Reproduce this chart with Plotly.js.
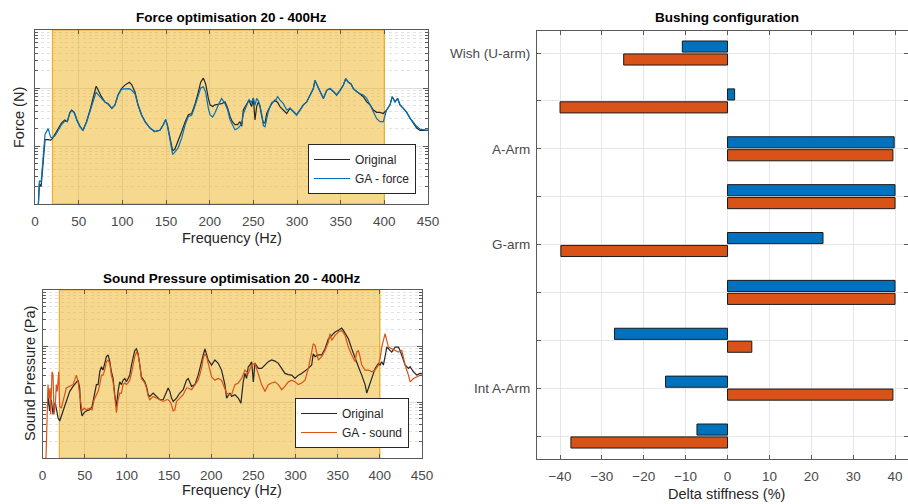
<!DOCTYPE html>
<html>
<head>
<meta charset="utf-8">
<script src="https://cdn.plot.ly/plotly-3.0.1.min.js"></script>
<style>
html, body { margin: 0; padding: 0; background: #ffffff; overflow: hidden; }
#chart { width: 908px; height: 504px; }
</style>
</head>
<body>
<div id="chart"></div>
<script>
// ---------------- DATA ----------------
// Force optimisation (levels stored as log10 of force)
var forceFreq = [3, 5, 7, 9.5, 11.5, 15, 18, 20, 23, 27, 30.5, 34, 37, 40, 42, 45, 48, 51.5, 55, 59, 63, 67, 70, 72.5, 76, 80, 84, 88, 91.6, 95, 99, 103, 108, 110.7, 114.5, 118, 122, 126, 131.7, 137, 143, 147, 149.6, 151.5, 154.6, 157.6, 160, 164, 168, 172, 175.6, 179.4, 183, 187, 189.7, 192.8, 195.4, 198.5, 200.4, 203.4, 206, 210, 213.7, 217.6, 220.6, 223.3, 225.9, 229, 232, 234.7, 236.7, 238.5, 242.4, 245, 248, 250, 251.9, 253.8, 255.7, 257.6, 259.6, 261.5, 263.4, 265.3, 267.2, 271, 274.8, 277.9, 280.5, 284.4, 288.2, 292, 295.8, 299.6, 303.4, 307.3, 311.1, 314.9, 318.7, 320.6, 323.7, 327.5, 330.2, 334, 337.8, 341.6, 345.4, 349.3, 353.1, 355.7, 358.8, 361.8, 364.5, 368.3, 372.1, 376, 379.8, 383.6, 387.4, 391.2, 395, 398.8, 402.6, 406.5, 409.1, 412.2, 415.3, 417.9, 421.8, 425.6, 429.4, 433.2, 437, 440.8, 446.6, 450];
var forceOriginalLog10 = [-0.3, 0.35, 0.30, 0.80, 1.11, 1.11, 1.10, 1.13, 1.20, 1.31, 1.40, 1.45, 1.42, 1.58, 1.62, 1.58, 1.45, 1.34, 1.27, 1.42, 1.62, 1.88, 2.03, 1.96, 1.85, 1.76, 1.72, 1.65, 1.71, 1.88, 1.99, 2.05, 2.10, 2.06, 1.93, 1.71, 1.54, 1.42, 1.31, 1.25, 1.27, 1.37, 1.45, 1.37, 1.14, 0.92, 0.94, 1.08, 1.25, 1.42, 1.54, 1.56, 1.71, 1.93, 2.10, 2.17, 2.07, 1.82, 1.71, 1.68, 1.71, 1.72, 1.73, 1.76, 1.65, 1.51, 1.42, 1.37, 1.37, 1.42, 1.34, 1.62, 1.71, 1.79, 1.68, 1.82, 1.45, 1.68, 1.76, 1.68, 1.51, 1.40, 1.40, 1.56, 1.62, 1.73, 1.79, 1.75, 1.68, 1.62, 1.56, 1.65, 1.59, 1.54, 1.62, 1.71, 1.76, 1.88, 1.99, 2.13, 2.02, 1.90, 1.82, 1.96, 1.99, 1.94, 1.88, 1.96, 2.05, 2.16, 2.10, 2.07, 1.99, 1.94, 1.90, 1.85, 1.76, 1.71, 1.62, 1.58, 1.58, 1.56, 1.62, 1.71, 1.85, 1.76, 1.82, 1.71, 1.65, 1.58, 1.48, 1.40, 1.31, 1.27, 1.27, 1.27];
var forceGALog10 = [-0.3, 0.40, 0.38, 0.80, 1.20, 1.30, 1.15, 1.14, 1.18, 1.28, 1.37, 1.43, 1.42, 1.57, 1.61, 1.57, 1.44, 1.33, 1.27, 1.41, 1.61, 1.82, 1.93, 1.88, 1.82, 1.76, 1.73, 1.65, 1.71, 1.87, 1.98, 1.99, 1.99, 1.96, 1.90, 1.70, 1.53, 1.42, 1.31, 1.25, 1.27, 1.37, 1.46, 1.36, 1.08, 0.86, 0.89, 0.97, 1.14, 1.37, 1.51, 1.53, 1.68, 1.87, 2.00, 2.02, 1.93, 1.65, 1.54, 1.50, 1.57, 1.71, 1.82, 1.73, 1.62, 1.45, 1.36, 1.28, 1.30, 1.35, 1.38, 1.55, 1.70, 1.80, 1.75, 1.83, 1.70, 1.82, 1.78, 1.70, 1.55, 1.35, 1.33, 1.50, 1.60, 1.75, 1.77, 1.85, 1.79, 1.73, 1.62, 1.65, 1.59, 1.53, 1.62, 1.71, 1.76, 1.88, 1.99, 2.13, 2.02, 1.90, 1.82, 1.96, 1.99, 1.94, 1.88, 1.96, 2.05, 2.16, 2.10, 2.07, 1.99, 1.94, 1.90, 1.88, 1.82, 1.71, 1.59, 1.47, 1.42, 1.42, 1.62, 1.71, 1.85, 1.76, 1.82, 1.71, 1.65, 1.58, 1.48, 1.40, 1.34, 1.29, 1.27, 1.27];

// Sound pressure optimisation (levels stored as log10 of pressure)
var soundFreqOriginal = [5.7, 7.2, 8.3, 10.5, 12.5, 13.7, 15.2, 16.4, 18.4, 20.4, 22.4, 24.3, 28.3, 32.3, 36.2, 40.2, 42.2, 44.1, 45.3, 46.9, 49.3, 52, 56, 58.8, 61.2, 63.9, 65.9, 67.9, 69.9, 71.8, 73.8, 75.8, 77.8, 79.8, 81.7, 83.7, 85.7, 87.7, 89.6, 91.6, 93.6, 95.6, 97.6, 99.5, 101.5, 103.5, 105.5, 107.5, 109.4, 111.4, 113.4, 115.4, 117.3, 121.3, 123.3, 125.3, 127.3, 131.2, 135.2, 139.1, 143.1, 147, 149, 151, 153, 155, 156.9, 158.9, 162.9, 166.8, 170.8, 172.8, 176.7, 180.7, 184.6, 188.6, 190.6, 192.6, 194.5, 196.5, 200.5, 204.4, 208.4, 212.3, 216.3, 218.3, 222.2, 224.2, 228.2, 232.1, 235.3, 238, 240.1, 242, 244, 246, 248, 250, 251.9, 254, 255.9, 259.8, 263.8, 267.8, 271.7, 275.7, 279.6, 283.6, 287.5, 291.5, 295.5, 299.4, 303.4, 307.3, 311.3, 315.2, 319.2, 321, 323.2, 327.1, 331.1, 335, 339, 342.9, 346.9, 350.9, 354.8, 356.8, 358.8, 362.7, 366.7, 370.6, 374.6, 378.5, 382.5, 384.5, 386.5, 390.4, 394.4, 398.3, 400.3, 402.3, 404.2, 406.2, 408.2, 410.2, 414.1, 418.1, 422.1, 424, 426, 430, 433.9, 435.9, 439.9, 443.8, 447.7, 449.7];
var soundOriginalLog10 = [0.89, 1.07, 0.84, 1.04, 0.78, 0.95, 0.98, 0.86, 0.72, 0.66, 0.75, 0.84, 0.98, 1.19, 1.28, 1.36, 1.39, 1.25, 0.89, 0.75, 0.81, 0.84, 0.86, 0.92, 1.10, 1.31, 1.31, 1.54, 1.63, 1.57, 1.69, 1.81, 1.84, 1.72, 1.54, 1.42, 1.13, 0.92, 1.19, 1.36, 1.31, 1.39, 1.42, 1.36, 1.42, 1.48, 1.66, 1.81, 1.92, 1.95, 1.86, 1.66, 1.45, 1.36, 1.28, 1.13, 1.10, 1.16, 1.10, 1.04, 1.04, 1.19, 1.25, 1.19, 1.07, 1.01, 1.04, 1.07, 1.16, 1.22, 1.39, 1.42, 1.28, 1.31, 1.48, 1.69, 1.84, 1.95, 1.86, 1.75, 1.66, 1.75, 1.69, 1.57, 1.31, 1.07, 1.16, 1.10, 1.13, 1.07, 0.98, 1.36, 1.51, 1.42, 1.63, 1.66, 1.72, 1.36, 1.69, 1.63, 1.60, 1.60, 1.66, 1.72, 1.75, 1.73, 1.69, 1.60, 1.51, 1.49, 1.48, 1.42, 1.48, 1.51, 1.55, 1.60, 1.66, 1.86, 1.81, 1.84, 1.84, 1.95, 2.13, 2.19, 2.25, 2.28, 2.32, 2.28, 2.22, 2.13, 1.95, 1.78, 1.63, 1.48, 1.31, 1.16, 1.25, 1.42, 1.60, 1.69, 1.66, 1.72, 1.66, 1.81, 1.98, 1.95, 1.89, 1.98, 1.98, 1.92, 1.84, 1.66, 1.60, 1.63, 1.54, 1.48, 1.51, 1.51];
var soundFreqGA = [3.8, 4.5, 5.7, 6.5, 7.7, 8.9, 9.7, 11.3, 12.5, 13.7, 15.2, 16.4, 17.6, 19.2, 20.4, 22.4, 24.3, 28.3, 32.3, 36.2, 40.2, 42.2, 44.1, 45.3, 46.9, 49.3, 52, 56, 58.8, 61.2, 63.9, 65.9, 67.9, 69.9, 71.8, 73.8, 75.8, 77.8, 79.8, 81.7, 83.7, 85.7, 87.7, 89.6, 91.6, 93.6, 95.6, 97.6, 99.5, 101.5, 103.5, 105.5, 107.5, 109.4, 111.4, 113.4, 115.4, 117.3, 121.3, 123.3, 125.3, 127.3, 131.2, 135.2, 139.1, 143.1, 147, 149, 151, 153, 155, 156.9, 158.9, 162.9, 166.8, 170.8, 172.8, 176.7, 180.7, 184.6, 188.6, 190.6, 192.6, 194.5, 196.5, 200.5, 204.4, 208.4, 212.3, 216.3, 218.3, 222.2, 224.2, 228.2, 232.1, 236.1, 240.1, 244, 248, 251.9, 255.9, 259.8, 263.8, 267.8, 271.7, 275.7, 279.6, 283.6, 287.5, 291.5, 295.5, 299.4, 303.4, 307.3, 311.3, 315.2, 319.2, 321, 323.2, 327.1, 331.1, 335, 339, 341, 342.9, 346.9, 350.9, 354.8, 358.8, 362.7, 366.7, 370.6, 372.6, 374.6, 376.5, 378.5, 382.5, 386.5, 390.4, 394.4, 398.3, 400.3, 402.3, 404.2, 406.2, 408.2, 410.2, 414.1, 418.1, 422.1, 426, 430, 433.9, 435.9, 439.9, 443.8, 447.7, 449.7];
var soundGALog10 = [-0.2, 0.31, 0.95, 1.31, 1.07, 1.25, 0.78, 1.54, 1.48, 0.78, 0.95, 1.31, 1.19, 1.54, 0.92, 0.89, 1.01, 1.25, 1.28, 1.31, 1.48, 1.36, 1.13, 0.95, 0.84, 0.89, 0.86, 0.89, 0.86, 1.04, 1.13, 1.19, 1.31, 1.48, 1.48, 1.57, 1.72, 1.75, 1.69, 1.48, 1.36, 1.04, 0.81, 1.04, 1.16, 1.16, 1.31, 1.34, 1.31, 1.34, 1.39, 1.51, 1.66, 1.81, 1.89, 1.84, 1.66, 1.42, 1.34, 1.25, 1.10, 1.04, 1.10, 1.07, 1.04, 1.01, 1.04, 1.04, 1.01, 0.95, 0.84, 0.86, 1.01, 1.07, 1.13, 1.25, 1.25, 1.22, 1.31, 1.39, 1.60, 1.78, 1.86, 1.81, 1.69, 1.45, 1.39, 1.42, 1.39, 1.25, 1.16, 1.13, 1.13, 1.31, 1.34, 1.42, 1.57, 1.51, 1.66, 1.69, 1.48, 1.31, 1.19, 1.31, 1.34, 1.36, 1.31, 1.22, 1.28, 1.36, 1.39, 1.36, 1.31, 1.34, 1.39, 1.60, 1.89, 2.04, 2.01, 1.75, 1.81, 1.92, 2.07, 2.22, 2.10, 2.19, 2.25, 2.28, 2.19, 1.98, 1.84, 1.72, 1.89, 1.92, 1.81, 1.66, 1.57, 1.57, 1.54, 1.57, 1.66, 1.78, 1.98, 2.13, 2.22, 2.10, 1.98, 1.95, 1.92, 1.89, 1.92, 1.66, 1.48, 1.36, 1.42, 1.45, 1.48, 1.49];

// Frequency band that was optimised (Hz) and the full log-axis span it is shaded over
var bandFreq = [20, 400, 400, 20, 20];
var bandSpan = [1, 1, 1000, 1000, 1];

// Bushing configuration
var bushingIndex = [1, 2, 3, 4, 5, 6, 7, 8, 9];
var bushingLabels = ['Wish (U-arm)', '', 'A-Arm', '', 'G-arm', '', '', 'Int A-Arm', ''];
var deltaForce = [-10.8, 1.7, 39.8, 40, 22.8, 40, -27, -14.8, -7.3];
var deltaSound = [-24.8, -40, 39.5, 40, -39.8, 40, 5.8, 39.5, -37.4];

// Tick values
var freqTicks = [0, 50, 100, 150, 200, 250, 300, 350, 400, 450];
var deltaTicks = [-40, -30, -20, -10, 0, 10, 20, 30, 40];
var logMajorTicks = [1, 10, 100, 1000];
var logMinorTicks = [2, 3, 4, 5, 6, 7, 8, 9, 20, 30, 40, 50, 60, 70, 80, 90, 200, 300, 400, 500, 600, 700, 800, 900];

// ---------------- STYLE ----------------
var FONT = 'Liberation Sans, Arial, Helvetica, sans-serif';
var BLUE = '#0072BD';
var ORANGE = '#D95319';
var BLACK = '#262626';
var AXIS = '#5a5a5a';
var GRID = '#dcdcdc';
var TICKFONT = {family: FONT, size: 13.5, color: '#4a4a4a'};

function pow10(arr) { return arr.map(function (v) { return Math.pow(10, v); }); }

function bandTrace(xa, ya) {
  return {x: bandFreq, y: bandSpan, type: 'scatter', mode: 'lines', fill: 'toself',
          fillcolor: 'rgba(237,177,32,0.5)', line: {color: 'rgba(228,168,28,0.9)', width: 1.2},
          showlegend: false, hoverinfo: 'skip', xaxis: xa, yaxis: ya};
}

var traces = [
  bandTrace('x', 'y'),
  bandTrace('x2', 'y2'),
  {x: forceFreq, y: pow10(forceOriginalLog10), type: 'scatter', mode: 'lines', name: 'Original',
   line: {color: BLACK, width: 1.2}, xaxis: 'x', yaxis: 'y', legend: 'legend'},
  {x: forceFreq, y: pow10(forceGALog10), type: 'scatter', mode: 'lines', name: 'GA - force',
   line: {color: BLUE, width: 1.2}, xaxis: 'x', yaxis: 'y', legend: 'legend'},
  {x: soundFreqOriginal, y: pow10(soundOriginalLog10), type: 'scatter', mode: 'lines', name: 'Original',
   line: {color: BLACK, width: 1.2}, xaxis: 'x2', yaxis: 'y2', legend: 'legend2'},
  {x: soundFreqGA, y: pow10(soundGALog10), type: 'scatter', mode: 'lines', name: 'GA - sound',
   line: {color: ORANGE, width: 1.2}, xaxis: 'x2', yaxis: 'y2', legend: 'legend2'},
  {x: deltaForce, y: bushingIndex, type: 'bar', orientation: 'h', name: 'GA - force', showlegend: false,
   marker: {color: BLUE, line: {color: '#1a1a1a', width: 1}}, xaxis: 'x3', yaxis: 'y3'},
  {x: deltaSound, y: bushingIndex, type: 'bar', orientation: 'h', name: 'GA - sound', showlegend: false,
   marker: {color: ORANGE, line: {color: '#1a1a1a', width: 1}}, xaxis: 'x3', yaxis: 'y3'}
];

function freqAxis(domain, anchor) {
  return {
    domain: domain, anchor: anchor, range: [0, 450], tickmode: 'array', tickvals: freqTicks,
    ticks: 'inside', ticklen: 4, tickcolor: AXIS, showline: true, linecolor: AXIS, linewidth: 1,
    mirror: 'ticks', showgrid: true, gridcolor: GRID, zeroline: false, tickfont: TICKFONT,
    ticklabelstandoff: 5, fixedrange: true
  };
}
function logAxis(domain, anchor) {
  return {
    domain: domain, anchor: anchor, type: 'log', range: [0, 3], tickmode: 'array', tickvals: logMajorTicks,
    showticklabels: false, ticks: 'inside', ticklen: 5, tickcolor: AXIS, showline: true, linecolor: AXIS,
    linewidth: 1, mirror: 'ticks', showgrid: true, gridcolor: GRID, zeroline: false,
    minor: {tickmode: 'array', tickvals: logMinorTicks, ticks: 'inside', ticklen: 3, tickcolor: AXIS,
            showgrid: true, gridcolor: '#e2e2e2', griddash: 'dot', gridwidth: 1},
    fixedrange: true
  };
}

function ann(text, xpx, ypx, opts) {
  var a = {text: text, xref: 'paper', yref: 'paper', x: xpx / 908, y: 1 - ypx / 504,
           xanchor: 'center', yanchor: 'middle', showarrow: false,
           font: {family: FONT, size: 14.5, color: '#262626'}};
  for (var k in opts) { a[k] = opts[k]; }
  return a;
}

var legendStyle = {
  xanchor: 'right', yanchor: 'bottom', xref: 'paper', yref: 'paper',
  bgcolor: '#ffffff', bordercolor: '#262626', borderwidth: 1, itemwidth: 36,
  entrywidth: 112, entrywidthmode: 'pixels',
  font: {family: FONT, size: 12, color: '#262626'}, tracegroupgap: 0
};
function legendAt(xpx, ypx) {
  var l = {x: xpx / 908, y: 1 - ypx / 504};
  for (var k in legendStyle) { l[k] = legendStyle[k]; }
  return l;
}

var layout = {
  width: 908, height: 504,
  margin: {l: 0, r: 0, t: 0, b: 0},
  paper_bgcolor: '#ffffff', plot_bgcolor: '#ffffff',
  font: {family: FONT, color: '#262626'},
  showlegend: true,
  barmode: 'group', bargap: 0.46, bargroupgap: 0.14,
  xaxis: freqAxis([35 / 908, 428 / 908], 'y'),
  yaxis: logAxis([1 - 204 / 504, 1 - 30 / 504], 'x'),
  xaxis2: freqAxis([42.5 / 908, 422 / 908], 'y2'),
  yaxis2: logAxis([1 - 458 / 504, 1 - 290 / 504], 'x2'),
  xaxis3: {
    domain: [537 / 908, 1], anchor: 'y3', range: [-45.5, 43.1], tickmode: 'array', tickvals: deltaTicks,
    ticks: 'inside', ticklen: 4, tickcolor: AXIS, showline: true, linecolor: AXIS, mirror: 'ticks',
    showgrid: true, gridcolor: '#e6e6e6', zeroline: false, tickfont: TICKFONT, ticklabelstandoff: 5,
    fixedrange: true
  },
  yaxis3: {
    domain: [1 - 459 / 504, 1 - 31 / 504], anchor: 'x3', range: [9.48, 0.54], tickmode: 'array',
    tickvals: bushingIndex, ticktext: bushingLabels, ticks: 'inside', ticklen: 4, tickcolor: AXIS,
    showline: true, linecolor: AXIS, mirror: 'ticks', showgrid: true, gridcolor: '#e6e6e6',
    zeroline: false, tickfont: TICKFONT, ticklabelstandoff: 3, fixedrange: true
  },
  legend: legendAt(416, 194),
  legend2: legendAt(409, 448),
  annotations: [
    ann('<b>Force optimisation 20 - 400Hz</b>', 231.5, 18, {font: {family: FONT, size: 13.5, color: '#000000'}}),
    ann('<b>Sound Pressure optimisation 20 - 400Hz</b>', 232, 278.5, {font: {family: FONT, size: 13.5, color: '#000000'}}),
    ann('<b>Bushing configuration</b>', 727, 18, {font: {family: FONT, size: 13.5, color: '#000000'}}),
    ann('Frequency (Hz)', 231.5, 238),
    ann('Frequency (Hz)', 232, 489.5),
    ann('Delta stiffness (%)', 726, 494),
    ann('Force (N)', 18.5, 117.5, {textangle: -90}),
    ann('Sound Pressure (Pa)', 30, 374, {textangle: -90})
  ]
};

Plotly.newPlot('chart', traces, layout, {displayModeBar: false, staticPlot: true});
</script>
</body>
</html>
